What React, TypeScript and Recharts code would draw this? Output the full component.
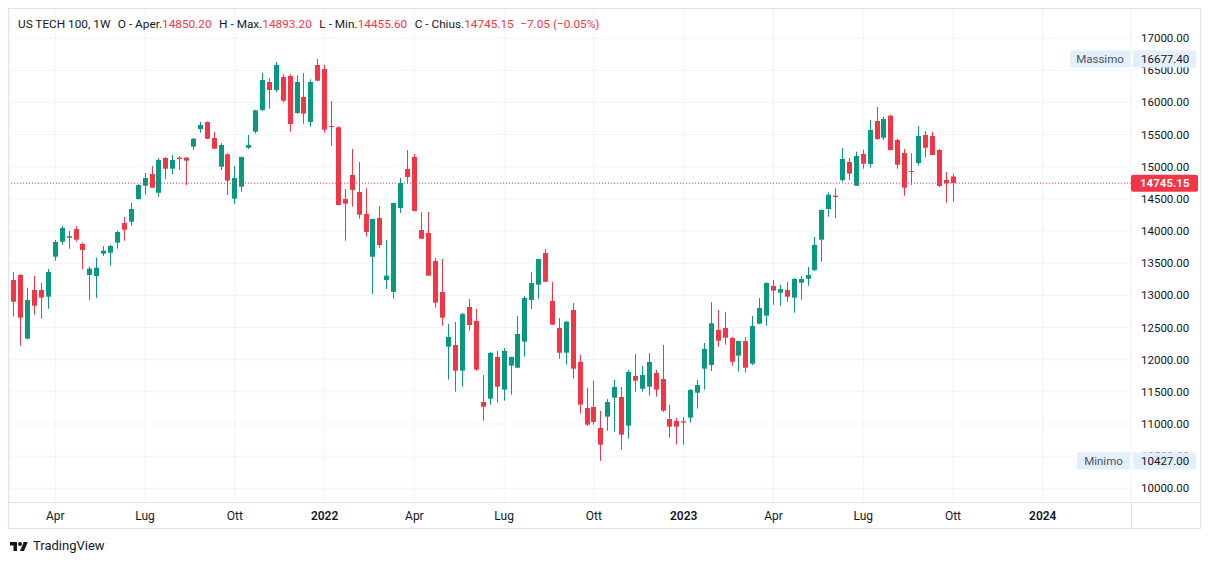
import React from 'react';
import { ComposedChart, Bar, XAxis, YAxis, CartesianGrid, ReferenceLine } from 'recharts';

const RED = '#F23645';
const GREEN = '#089981';
const TEXT = '#131722';
const FONT = 'Roboto, "Noto Sans", sans-serif';

// weekly candles, from the week of 22 Feb 2021 to the week of 2 Oct 2023
const opens = [
  13240, 13317, 12327, 13084, 13084, 12980, 13602, 13835, 13897, 14033,
  13800, 13317, 13302, 13649, 13664, 13820, 14126, 14146, 14499, 14706,
  14888, 14597, 15137, 14970, 15142, 15142, 15313, 15588, 15697, 15448,
  15002, 15194, 14504, 14691, 15297, 15546, 15883, 16319, 16194, 16396,
  16412, 15837, 16085, 15697, 16583, 16521, 15634, 15614, 14499, 14873,
  14609, 14266, 13602, 14204, 13240, 13053, 14359, 14966, 15152, 14017,
  13971, 13535, 13053, 12203, 12229, 11829, 12820, 12602, 11342, 11394,
  12042, 11534, 11908, 11876, 12280, 12929, 13167, 13660, 12913, 12493,
  12109, 12773, 11965, 11249, 11265, 10939, 11114, 11409, 11420, 10974,
  11747, 11549, 11581, 11793, 11700, 11078, 11047, 11042, 11099, 11487,
  11861, 11918, 12462, 12493, 12338, 12063, 12291, 11938, 12560, 12685,
  13147, 13042, 13084, 12965, 13198, 13260, 13395, 13866, 14344, 14550,
  14795, 15075, 14706, 15199, 15044, 15712, 15452, 15795, 15417, 15215,
  14935, 15059, 15494, 15479, 15261, 14795, 14850.2,
];
const highs = [
  13364, 13328, 13120, 13302, 13193, 13411, 13862, 14079, 14002, 14079,
  13820, 13447, 13587, 13768, 13789, 14006, 14220, 14442, 14728, 14904,
  15012, 15137, 15152, 15183, 15168, 15150, 15448, 15697, 15705, 15541,
  15370, 15210, 15012, 15160, 15494, 15886, 16459, 16376, 16630, 16438,
  16438, 16422, 16459, 16360, 16677.4, 16583, 16023, 15630, 14655, 15277,
  15075, 14666, 14195, 14391, 13862, 14442, 14826, 15261, 15199, 14297,
  14297, 13582, 13566, 12555, 12587, 12726, 12944, 12789, 11762, 12120,
  12136, 12182, 12045, 12680, 12991, 13364, 13570, 13722, 13209, 12649,
  12602, 12882, 12073, 11565, 11674, 11203, 11387, 11684, 11575, 11840,
  12089, 11902, 12104, 11840, 12229, 11296, 11094, 11109, 11544, 11684,
  12260, 12893, 12773, 12742, 12353, 12295, 12353, 12680, 12960, 13200,
  13240, 13162, 13209, 13271, 13302, 13442, 13908, 14335, 14597, 14666,
  15292, 15137, 15235, 15266, 15728, 15930, 15779, 15810, 15437, 15277,
  15210, 15634, 15557, 15541, 15277, 14919, 14893.2,
];
const lows = [
  12669, 12218, 12320, 12700, 12638, 12793, 13540, 13789, 13726, 13835,
  13406, 12929, 12960, 13613, 13462, 13726, 13851, 14084, 14489, 14566,
  14670, 14535, 14806, 14883, 14950, 14717, 15261, 15530, 15430, 15275,
  14950, 14561, 14422, 14613, 15277, 15515, 15868, 15903, 16158, 16003,
  15546, 15821, 15670, 15624, 16330, 15530, 15328, 14400, 13851, 14380,
  14193, 13913, 13022, 13742, 13100, 12949, 14282, 14743, 14305, 13875,
  13300, 12809, 12529, 11689, 11503, 11581, 12451, 11829, 11052, 11301,
  11332, 11363, 11456, 11870, 12047, 12789, 12949, 13205, 12540, 12016,
  11923, 11705, 11161, 10970, 10990, 10427, 10896, 10881, 10601, 10772,
  11503, 11503, 11441, 11425, 11187, 10788, 10679, 10679, 11020, 11239,
  11534, 11824, 12203, 12234, 11907, 11814, 11798, 11918, 12555, 12529,
  12856, 12840, 12902, 12731, 12933, 13151, 13380, 13524, 14224, 14200,
  14768, 14795, 14700, 14970, 14986, 15421, 15417, 15255, 14970, 14551,
  14717, 15017, 15142, 15180, 14686, 14442, 14455.6,
];
const closes = [
  12902, 12654, 12929, 12840, 12965, 13364, 13831, 14048, 13921, 13866,
  13706, 13416, 13431, 13696, 13768, 13986, 14022, 14344, 14717, 14826,
  14675, 15106, 14970, 15106, 15121, 15095, 15437, 15650, 15437, 15281,
  15339, 14784, 14826, 15152, 15339, 15879, 16350, 16194, 16583, 16028,
  15666, 16319, 15826, 16319, 16339, 15577, 15619, 14406, 14426, 14640,
  14255, 13986, 14188, 13784, 13307, 14437, 14748, 14841, 14313, 13882,
  13307, 12887, 12654, 12353, 11829, 12711, 12540, 11845, 11269, 12104,
  11581, 12136, 12042, 12400, 12960, 13193, 13566, 13213, 12545, 12109,
  12591, 11861, 11301, 10990, 11032, 10679, 11342, 11575, 10834, 11809,
  11674, 11762, 11965, 11534, 11208, 10959, 10959, 11020, 11529, 11607,
  12167, 12566, 12296, 12343, 11969, 12291, 11876, 12524, 12804, 13193,
  13073, 13100, 12980, 13255, 13255, 13317, 13784, 14328, 14566, 14530,
  15121, 14893, 15168, 15048, 15572, 15432, 15743, 15261, 15033, 14675,
  14920, 15479, 15297, 15183, 14701, 14743, 14745.15,
];

// time-axis labels: week index of the first weekly bar of each quarter
const tickWeeks = [6, 19, 32, 45, 58, 71, 84, 97, 110, 123, 136, 149];
const tickLabels = ['Apr', 'Lug', 'Ott', '2022', 'Apr', 'Lug', 'Ott', '2023', 'Apr', 'Lug', 'Ott', '2024'];
const priceTicks = [10000, 10500, 11000, 11500, 12000, 12500, 13000, 13500, 14000, 14500, 15000, 15500, 16000, 16500, 17000];

const MAX_PRICE = 16677.4;
const MIN_PRICE = 10427.0;
const LAST = { open: 14850.2, high: 14893.2, low: 14455.6, close: 14745.15, change: -7.05, pct: -0.05 };

// price-scale marks: regular ticks, then the tags drawn on top of them
const axisMarks = [...priceTicks, MIN_PRICE, MAX_PRICE, LAST.close];

const data = opens.map((o, i) => ({
  i,
  open: o,
  high: highs[i],
  low: lows[i],
  close: closes[i],
  range: [lows[i], highs[i]],
}));

const fmt = (v: number) => v.toFixed(2);

const Candle = (props: any) => {
  const { x, y, width, height, payload } = props;
  if (!payload || height == null) return null;
  const { open, close, high, low } = payload;
  const color = close >= open ? GREEN : RED;
  const ratio = height / (high - low);
  const p = Math.floor(x + width / 2);
  const top = y + (high - Math.max(open, close)) * ratio;
  const h = Math.max(1, Math.abs(open - close) * ratio);
  return (
    <g>
      <line x1={p + 0.5} x2={p + 0.5} y1={y} y2={y + height} stroke={color} strokeWidth={1} />
      <rect x={p - 2} y={top} width={5} height={h} fill={color} />
    </g>
  );
};

const XTick = (props: any) => {
  const { x, y, payload } = props;
  const idx = tickWeeks.indexOf(payload.value);
  const label = tickLabels[idx] ?? '';
  const isYear = /^\d{4}$/.test(label);
  return (
    <text x={x} y={y + 14} textAnchor="middle" dominantBaseline="central" fill={TEXT}
      fontSize={12} fontFamily={FONT} fontWeight={isYear ? 600 : 400}>
      {label}
    </text>
  );
};

const YTick = (props: any) => {
  const { x, y, payload } = props;
  const v = payload.value;
  if (v === LAST.close) {
    return (
      <g>
        <rect x={x} y={y - 8.5} width={67} height={17} rx={2} fill={RED} />
        <text x={x + 9} y={y} dominantBaseline="central" fill="#ffffff" fontSize={11.5}
          fontFamily={FONT} fontWeight={700}>
          {fmt(v)}
        </text>
      </g>
    );
  }
  if (v === MAX_PRICE || v === MIN_PRICE) {
    const name = v === MAX_PRICE ? 'Massimo' : 'Minimo';
    const nameWidth = v === MAX_PRICE ? 60 : 53;
    return (
      <g>
        <rect x={x - nameWidth - 1} y={y - 8.5} width={nameWidth} height={17} fill="#e3effd" />
        <text x={x - 1 - nameWidth / 2} y={y} textAnchor="middle" dominantBaseline="central"
          fill="#50535e" fontSize={11.5} fontFamily={FONT}>
          {name}
        </text>
        <rect x={x + 2} y={y - 8.5} width={63} height={17} fill="#e3effd" />
        <text x={x + 10} y={y} dominantBaseline="central" fill={TEXT} fontSize={11.5} fontFamily={FONT}>
          {fmt(v)}
        </text>
      </g>
    );
  }
  return (
    <text x={x + 10} y={y} dominantBaseline="central" fill={TEXT} fontSize={11.5} fontFamily={FONT}>
      {fmt(v)}
    </text>
  );
};

const Logo = () => (
  <svg width={18} height={14} viewBox="0 0 36 28" style={{ position: 'absolute', left: 2, top: 532 }}>
    <path d="M14 22H7V11H0V4h14v18zM28 22h-8l7.5-18h8L28 22z" fill={TEXT} />
    <circle cx={20} cy={8} r={4} fill={TEXT} />
  </svg>
);

export default function App() {
  const red = { color: RED };
  const gap = { marginLeft: 7.5 };
  return (
    <div style={{ position: 'relative', width: 1193, height: 548, fontFamily: FONT }}>
      <ComposedChart width={1193} height={521} data={data}
        margin={{ top: 1, right: 0, bottom: 0, left: 2 }}>
        <CartesianGrid stroke="#f0f3fa" strokeWidth={1} horizontalValues={priceTicks} />
        <XAxis dataKey="i" type="number" domain={[-0.56, 161.78]} allowDataOverflow
          ticks={tickWeeks} interval={0} tick={<XTick />} axisLine={false} tickLine={false}
          tickSize={0} tickMargin={0} height={27} />
        <YAxis orientation="right" type="number" domain={[9787, 17454]} allowDataOverflow
          ticks={axisMarks} interval={0} tick={<YTick />} axisLine={false} tickLine={false}
          tickSize={0} tickMargin={0} width={70} />
        <Bar dataKey="range" barSize={5} shape={<Candle />} isAnimationActive={false} />
        <ReferenceLine y={LAST.close} stroke={RED} strokeDasharray="1 2" strokeWidth={1} />
      </ComposedChart>
      <div style={{ position: 'absolute', left: 0, top: 0, width: 1193, height: 521,
        border: '1px solid #e0e3eb', boxSizing: 'border-box', pointerEvents: 'none' }} />
      <div style={{ position: 'absolute', left: 0, top: 494, width: 1193, height: 1, background: '#e0e3eb' }} />
      <div style={{ position: 'absolute', left: 1123, top: 494, width: 1, height: 27, background: '#e0e3eb' }} />
      <div style={{ position: 'absolute', left: 10, top: 8, height: 16, lineHeight: '16px', fontSize: 11.8,
        color: TEXT, whiteSpace: 'pre' }}>
        <span>US TECH 100, 1W</span>
        <span style={gap}>O - Aper.</span><span style={red}>{fmt(LAST.open)}</span>
        <span style={gap}>H - Max.</span><span style={red}>{fmt(LAST.high)}</span>
        <span style={gap}>L - Min.</span><span style={red}>{fmt(LAST.low)}</span>
        <span style={gap}>C - Chius.</span><span style={red}>{fmt(LAST.close)}</span>
        <span style={{ ...red, marginLeft: 6.5 }}>
          {'\u2212' + Math.abs(LAST.change).toFixed(2) + ' (\u2212' + Math.abs(LAST.pct).toFixed(2) + '%)'}
        </span>
      </div>
      <Logo />
      <div style={{ position: 'absolute', left: 25, top: 530, fontSize: 13, lineHeight: '16px', color: TEXT }}>
        TradingView
      </div>
    </div>
  );
}
